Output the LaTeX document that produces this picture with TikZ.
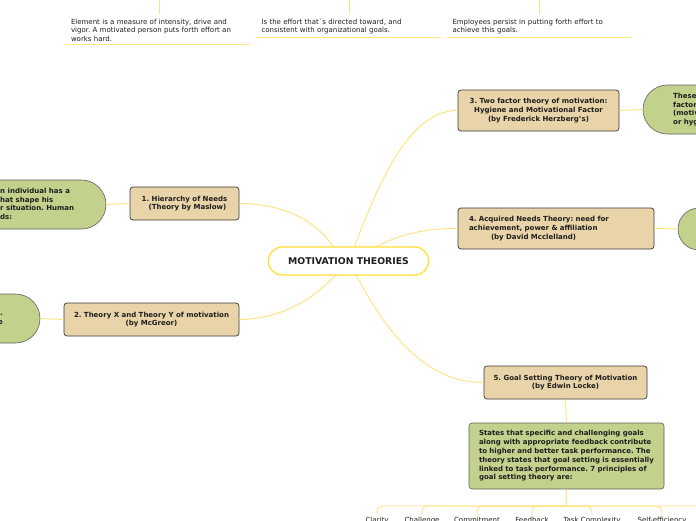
\documentclass[tikz,border=0pt]{standalone}
\usepackage{fontspec}
\setmainfont{DejaVu Sans}
\usetikzlibrary{shapes.misc,calc}
\definecolor{tanfill}{HTML}{E8D4A8}
\definecolor{greenfill}{HTML}{C2D18C}
\definecolor{boxline}{HTML}{3A3A3A}
\definecolor{linkyellow}{HTML}{FFE27A}
\definecolor{noteline}{HTML}{FFE680}
\definecolor{mainyellow}{HTML}{FFE033}
\definecolor{textgray}{HTML}{1E1E1E}
\frenchspacing
\begin{document}
\begin{tikzpicture}[x=1pt,y=-1pt,
 conn/.style={draw=linkyellow, line width=0.9pt},
 topic/.style={rectangle, rounded corners=3pt, fill=tanfill, draw=boxline, line width=0.7pt, text=textgray, font=\bfseries\fontsize{7}{8.7}\selectfont, align=center, inner sep=0pt},
 greenbox/.style={fill=greenfill, draw=boxline!80, line width=0.6pt},
 pill/.style={greenbox, rounded rectangle, inner sep=0pt},
 note/.style={font=\fontsize{7}{8.6}\selectfont, text=textgray, align=left, text width=174pt, inner xsep=5pt, inner ysep=3pt, anchor=north},
 leaf/.style={font=\fontsize{7}{8.6}\selectfont, text=textgray, anchor=north, inner sep=2pt},
 gtext/.style={font=\bfseries\fontsize{7}{8.7}\selectfont, text=textgray, inner sep=0pt}]
\useasboundingbox (0,0) rectangle (696,520);
\clip (0,0) rectangle (696,520);
\fill[white] (0,0) rectangle (696,520);

% top notes
\coordinate (t1) at (159,0);
\coordinate (t2) at (349,0);
\coordinate (t3) at (539,0);
\node[note] (note1) at (158,15.5) {Element is a measure of intensity, drive and\\vigor. A motivated person puts forth effort an\\works hard.};
\node[note] (note2) at (348.5,15.5) {Is the effort that\textasciiacute s directed toward, and\\consistent with organizational goals.};
\node[note] (note3) at (539.5,15.5) {Employees persist in putting forth effort to\\achieve this goals.};
\draw[conn] (t1) -- ++(0,14);
\draw[conn] (t2) -- ++(0,14);
\draw[conn] (t3) -- ++(0,14);
\draw[draw=noteline, line width=1pt] (note1.south west) -- (note1.south east);
\draw[draw=noteline, line width=1pt] (note2.south west) -- (note2.south east);
\draw[draw=noteline, line width=1pt] (note3.south west) -- (note3.south east);

% main
\node[rounded rectangle, draw=mainyellow, line width=1.3pt, fill=white, minimum width=167pt, minimum height=28pt, font=\bfseries\fontsize{9.3}{11}\selectfont, text=textgray] (main) at (348.5,261) {MOTIVATION THEORIES};

% topics
\node[topic, minimum width=109pt, minimum height=33pt] (n1) at (184.5,203.5) {1. Hierarchy of Needs\\\hspace*{6pt}(Theory by Maslow)};
\node[topic, minimum width=175pt, minimum height=33pt] (n2) at (151.5,319.5) {2. Theory X and Theory Y of motivation\\(by McGreor)};
\node[topic, minimum width=161pt, minimum height=41pt] (n3) at (538.5,110.5) {3. Two factor theory of motivation:\\Hygiene and Motivational Factor\\(by Frederick Herzberg's)};
\node[topic, minimum width=196pt, minimum height=41pt, align=left, text width=174pt] (n4) at (556,228.5) {4. Acquired Needs Theory: need for\\achievement, power \& affiliation\\\hspace*{22pt}(by David Mcclelland)};
\node[topic, minimum width=163pt, minimum height=33pt] (n5) at (565.5,382.5) {5. Goal Setting Theory of Motivation\\(by Edwin Locke)};

% green details
\node[pill, rounded rectangle left arc=none, minimum width=166pt, minimum height=49pt] (p1) at (23,204.5) {};
\node[gtext, align=left, anchor=west] (p1text) at (0,204) {\llap{that a}n individual has a\\\llap{needs t}hat shape his\\\llap{in thei}r situation. Human\\\llap{nee}ds:};
\node[pill, rounded rectangle left arc=none, minimum width=100pt, minimum height=49pt] (p2) at (-10,318.5) {};
\node[gtext, align=right, anchor=east] (p2text) at (3,317.5) {proposed two theories.\\about human nature};
\node[pill, rounded rectangle right arc=none, minimum width=120pt, minimum height=49pt] (p3) at (703,109.5) {};
\node[gtext, align=left, anchor=west] (p3text) at (673,109.5) {Theses two\\factors are\\(motivators\\or hygiene)};
\node[pill, rounded rectangle right arc=none, minimum width=120pt, minimum height=42pt] (p4) at (738,229) {};
\node[greenbox, rectangle, rounded corners=3pt, minimum width=195pt, minimum height=66pt, inner sep=0pt, text width=175pt, align=left, text=textgray, font=\bfseries\fontsize{7}{8.8}\selectfont] (g5) at (566.5,456) {States that specific and challenging goals\\along with appropriate feedback contribute\\to higher and better task performance. The\\theory states that goal setting is essentially\\linked to task performance. 7 principles of\\goal setting theory are:};

% connectors main -> topics
\coordinate (m1) at (334,247.5);
\coordinate (m2) at (336,274.5);
\coordinate (m3) at (354,247.5);
\coordinate (m4) at (376,247);
\coordinate (m5) at (356,274.5);
\draw[conn] (n1.east) .. controls (285,204) and (315,220) .. (m1);
\draw[conn] (n2.east) .. controls (285,319) and (318,295) .. (m2);
\draw[conn] (m3) .. controls (380,180) and (410,110) .. (n3.west);
\draw[conn] (m4) .. controls (395,237) and (420,228) .. (n4.west);
\draw[conn] (m5) .. controls (390,340) and (430,383) .. (n5.west);

\draw[conn] (p1.east) -- (n1.west);
\draw[conn] (p2.east) -- (n2.west);
\draw[conn] (n3.east) -- (p3.west);
\draw[conn] (n4.east) -- (p4.west);
\draw[conn] (n5.south) -- (g5.north);

% principles
\node[leaf] (c1) at (377,515) {Clarity};
\node[leaf] (c2) at (422,515) {Challenge};
\node[leaf] (c3) at (477,515) {Commitment};
\node[leaf] (c4) at (532,515) {Feedback};
\node[leaf] (c5) at (592,515) {Task Complexity};
\node[leaf] (c6) at (662,515) {Self-efficiency};
\coordinate (c7) at (730,515);
\coordinate (bus) at (566,506);
\draw[conn, line width=1.2pt] (g5.south) -- (bus);
\foreach \c in {c1,c2,c3,c4,c5,c6}
  \draw[conn, rounded corners=6pt] (bus) -| (\c.north);
\draw[conn, rounded corners=6pt] (bus) -| (c7);
\end{tikzpicture}
\end{document}
